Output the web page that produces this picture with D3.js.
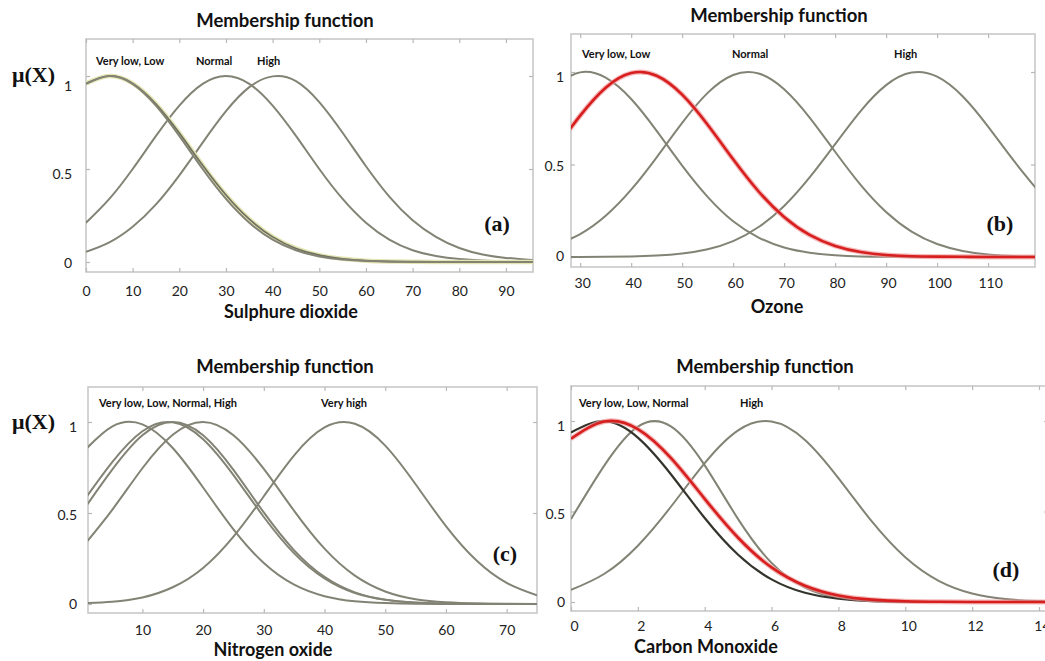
<!DOCTYPE html>
<html>
<head>
<meta charset="utf-8">
<script src="https://cdn.jsdelivr.net/npm/d3@7"></script>
<style>
  html, body { margin: 0; padding: 0; background: #fff; }
  svg { display: block; }
  .tick text { font-family: Lato, sans-serif; font-size: 14px; fill: #222; }
</style>
</head>
<body>
<svg id="chart" width="1045" height="661"></svg>
<script>
// ---- data ----
const panelTitle = "Membership function";
const axisNames = ["Sulphure dioxide", "Ozone", "Nitrogen oxide", "Carbon Monoxide"];
const panelTags = ["(a)", "(b)", "(c)", "(d)"];
const yTicks = [0, 0.5, 1];

// (a) sulphure dioxide
const so2X = [0, 5, 10, 15, 20, 25, 30, 35, 40, 45, 50, 55, 60, 65, 70, 75, 80, 85, 90, 95, 96];
const so2VeryLow = [0.960, 1.000, 0.960, 0.849, 0.693, 0.520, 0.360, 0.230, 0.135, 0.073, 0.037, 0.017, 0.007, 0.003, 0.001, 0, 0, 0, 0, 0, 0];
const so2Low = [0.958, 1.000, 0.958, 0.841, 0.678, 0.500, 0.339, 0.211, 0.120, 0.063, 0.030, 0.013, 0.005, 0.002, 0.001, 0, 0, 0, 0, 0, 0];
const so2Normal = [0.211, 0.339, 0.500, 0.678, 0.841, 0.958, 1.000, 0.958, 0.841, 0.678, 0.500, 0.339, 0.211, 0.120, 0.063, 0.032, 0.016, 0.008, 0.004, 0.002, 0.002];
const so2High = [0.055, 0.106, 0.190, 0.310, 0.466, 0.642, 0.811, 0.940, 0.998, 0.973, 0.860, 0.695, 0.515, 0.352, 0.225, 0.135, 0.075, 0.040, 0.022, 0.012, 0.010];
const so2Ticks = [0, 10, 20, 30, 40, 50, 60, 70, 80, 90];
const so2Names = ["Very low, Low", "Normal", "High"];

// (b) ozone
const o3X = [25, 30, 35, 40, 45, 50, 55, 60, 65, 70, 75, 80, 85, 90, 95, 100, 105, 110, 115, 120];
const o3VeryLow = [0.932, 0.998, 0.969, 0.854, 0.682, 0.494, 0.325, 0.193, 0.105, 0.051, 0.023, 0.009, 0.003, 0.001, 0, 0, 0, 0, 0, 0];
const o3Low = [0.580, 0.764, 0.915, 0.994, 0.980, 0.878, 0.715, 0.528, 0.354, 0.216, 0.119, 0.060, 0.027, 0.011, 0.004, 0.002, 0.001, 0, 0, 0];
const o3Normal = [0.063, 0.124, 0.223, 0.364, 0.539, 0.725, 0.887, 0.984, 0.992, 0.907, 0.754, 0.569, 0.390, 0.243, 0.137, 0.070, 0.033, 0.014, 0.005, 0.002];
const o3High = [0, 0, 0.001, 0.003, 0.008, 0.019, 0.042, 0.086, 0.162, 0.276, 0.430, 0.610, 0.789, 0.929, 0.997, 0.975, 0.869, 0.705, 0.522, 0.352];
const o3Ticks = [30, 40, 50, 60, 70, 80, 90, 100, 110];
const o3Names = ["Very low, Low", "Normal", "High"];

// (c) nitrogen oxide
const no2X = [0, 5, 10, 15, 20, 25, 30, 35, 40, 45, 50, 55, 60, 65, 70, 75];
const no2VeryLow = [0.827, 0.975, 0.987, 0.857, 0.640, 0.410, 0.225, 0.106, 0.043, 0.015, 0.005, 0.001, 0, 0, 0, 0];
const no2Low = [0.551, 0.778, 0.949, 0.998, 0.905, 0.708, 0.478, 0.278, 0.140, 0.060, 0.023, 0.007, 0.002, 0.001, 0, 0];
const no2Normal = [0.503, 0.737, 0.927, 1.000, 0.927, 0.737, 0.503, 0.295, 0.149, 0.064, 0.024, 0.008, 0.002, 0.001, 0, 0];
const no2High = [0.308, 0.516, 0.746, 0.930, 1.000, 0.927, 0.742, 0.512, 0.304, 0.156, 0.069, 0.026, 0.009, 0.003, 0.001, 0];
const no2VeryHigh = [0.004, 0.013, 0.036, 0.092, 0.198, 0.370, 0.592, 0.817, 0.970, 0.990, 0.870, 0.658, 0.428, 0.240, 0.116, 0.048];
const no2Ticks = [10, 20, 30, 40, 50, 60, 70];
const no2Names = ["Very low, Low, Normal, High", "Very high"];

// (d) carbon monoxide
const coX = [0, 1, 2, 3, 4, 5, 6, 7, 8, 9, 10, 11, 12, 13, 14, 15];
const coVeryLow = [0.937, 0.999, 0.908, 0.703, 0.464, 0.261, 0.125, 0.051, 0.018, 0.005, 0.001, 0, 0, 0, 0, 0];
const coLow = [0.902, 0.997, 0.955, 0.793, 0.570, 0.355, 0.191, 0.090, 0.036, 0.013, 0.004, 0.001, 0, 0, 0, 0];
const coNormal = [0.458, 0.755, 0.969, 0.969, 0.755, 0.458, 0.216, 0.080, 0.023, 0.005, 0.001, 0, 0, 0, 0, 0];
const coHigh = [0.067, 0.156, 0.311, 0.529, 0.767, 0.948, 0.997, 0.895, 0.684, 0.445, 0.247, 0.117, 0.047, 0.016, 0.005, 0.001];
const coTicks = [0, 2, 4, 6, 8, 10, 12, 14];
const coNames = ["Very low, Low, Normal", "High"];

// ---- layout (pixels) ----
const panels = [
  { xs: so2X, series: [[so2Normal, 'gray'], [so2High, 'gray'], [so2VeryLow, 'pair'], [so2Low, 'gray']],
    ticks: so2Ticks, names: so2Names, axisName: axisNames[0], tag: panelTags[0],
    box: [86, 39, 533, 272], y1: 76, y0: 262, domain: [0, 95.8],
    title: [285, 21], axisTitle: [291, 312], tickY: 291, tickShift: 0,
    yLabelRight: 72, ySkew: [1, 9], tagPos: [497, 223], namePos: [[96, 61], [196, 61], [257, 61]], mu: [12, 74] },
  { xs: o3X, series: [[o3VeryLow, 'gray'], [o3Normal, 'gray'], [o3High, 'gray'], [o3Low, 'red']],
    ticks: o3Ticks, names: o3Names, axisName: axisNames[1], tag: panelTags[1],
    box: [571, 34, 1035, 267], y1: 72, y0: 257, domain: [28.2, 119.2],
    title: [779, 16], axisTitle: [777, 307], tickY: 283, tickShift: 2,
    yLabelRight: 564, ySkew: [-1, 6], tagPos: [1000, 223], namePos: [[582, 54], [732, 54], [894, 54]], mu: null },
  { xs: no2X, series: [[no2VeryLow, 'gray'], [no2Low, 'gray'], [no2Normal, 'gray'], [no2High, 'gray'], [no2VeryHigh, 'gray']],
    ticks: no2Ticks, names: no2Names, axisName: axisNames[2], tag: panelTags[2],
    box: [88, 387, 537, 613], y1: 422, y0: 604, domain: [1.04, 75],
    title: [285, 367], axisTitle: [273, 650], tickY: 630, tickShift: 0,
    yLabelRight: 77, ySkew: [0, 5], tagPos: [505, 553], namePos: [[99, 403], [321, 403]], mu: [12, 421] },
  { xs: coX, series: [[coNormal, 'gray'], [coHigh, 'gray'], [coVeryLow, 'dark'], [coLow, 'red']],
    ticks: coTicks, names: coNames, axisName: axisNames[3], tag: panelTags[3],
    box: [571, 386, 1048, 611], y1: 421, y0: 602, domain: [0, 14.27],
    title: [765, 367], axisTitle: [706, 647], tickY: 626, tickShift: 3,
    yLabelRight: 565, ySkew: [0, 5], tagPos: [1006, 569], namePos: [[579, 403], [740, 403]], mu: null }
];

const svg = d3.select('#chart');

panels.forEach((p, i) => drawPanel(p, i));

function drawPanel(p, i) {
  const [L, T, R, B] = p.box;
  const x = d3.scaleLinear().domain(p.domain).range([L, R]);
  const y = d3.scaleLinear().domain([0, 1]).range([p.y0, p.y1]);
  const g = svg.append('g');

  g.append('clipPath').attr('id', 'clip' + i)
    .append('rect').attr('x', L).attr('y', T).attr('width', R - L).attr('height', B - T);

  // frame
  g.append('rect')
    .attr('x', L).attr('y', T).attr('width', R - L).attr('height', B - T)
    .style('fill', 'none').style('stroke', '#c9c9c9').style('stroke-width', 1.6);

  // inward tick marks on all four sides
  const marks = [
    [d3.axisTop(x).tickValues(p.ticks), `translate(0,${B})`],
    [d3.axisBottom(x).tickValues(p.ticks), `translate(0,${T})`],
    [d3.axisRight(y).tickValues(yTicks), `translate(${L},0)`],
    [d3.axisLeft(y).tickValues(yTicks), `translate(${R},0)`]
  ];
  marks.forEach(([ax, tr]) => {
    const m = g.append('g').attr('transform', tr).call(ax.tickSize(4).tickFormat(''));
    m.select('.domain').remove();
    m.selectAll('line').style('stroke', '#b8b8b8').style('stroke-width', 1.2);
  });

  // tick labels
  const xl = g.append('g')
    .attr('transform', `translate(${p.tickShift},${p.tickY})`)
    .call(d3.axisBottom(x).tickValues(p.ticks).tickSize(0).tickPadding(0));
  xl.select('.domain').remove();
  xl.selectAll('text').attr('y', 0).attr('dy', '0.36em');

  const yl = g.append('g')
    .attr('transform', `translate(${p.yLabelRight},0)`)
    .call(d3.axisLeft(y).tickValues(yTicks).tickSize(0).tickPadding(0).tickFormat(d3.format('')));
  yl.select('.domain').remove();
  yl.selectAll('.tick text')
    .attr('transform', d => `translate(0,${p.ySkew[0] + p.ySkew[1] * d})`);

  // curves
  const line = d3.line()
    .x((d, k) => x(p.xs[k]))
    .y(d => y(d))
    .curve(d3.curveNatural);

  const curves = g.append('g').attr('clip-path', `url(#clip${i})`);
  p.series.forEach(([vals, kind]) => {
    if (kind === 'red') {
      curves.append('path').attr('d', line(vals))
        .style('fill', 'none').style('stroke', '#f09a9a').style('stroke-width', 5).style('opacity', 0.7);
      curves.append('path').attr('d', line(vals))
        .style('fill', 'none').style('stroke', '#d81f1f').style('stroke-width', 2.6);
    } else if (kind === 'pair') {
      curves.append('path').attr('d', line(vals))
        .style('fill', 'none').style('stroke', '#e4e6b2').style('stroke-width', 4.5);
      curves.append('path').attr('d', line(vals))
        .style('fill', 'none').style('stroke', '#6f6f60').style('stroke-width', 1.7);
    } else {
      curves.append('path').attr('d', line(vals))
        .style('fill', 'none')
        .style('stroke', kind === 'dark' ? '#34342c' : '#838375')
        .style('stroke-width', kind === 'dark' ? 2.2 : 2);
    }
  });

  // set names above the curves
  p.names.forEach((n, k) => {
    g.append('text')
      .attr('x', p.namePos[k][0]).attr('y', p.namePos[k][1]).attr('dy', '0.35em')
      .style('font-family', 'Lato, sans-serif').style('font-weight', 'bold').style('font-size', '11px')
      .style('fill', '#111')
      .text(n);
  });

  g.append('text')
    .attr('x', p.title[0]).attr('y', p.title[1]).attr('dy', '0.35em')
    .style('text-anchor', 'middle')
    .style('font-family', 'Lato, sans-serif').style('font-weight', 'bold').style('font-size', '18.5px')
    .style('fill', '#111')
    .text(panelTitle);

  g.append('text')
    .attr('x', p.axisTitle[0]).attr('y', p.axisTitle[1]).attr('dy', '0.35em')
    .style('text-anchor', 'middle')
    .style('font-family', 'Lato, sans-serif').style('font-weight', 'bold').style('font-size', '18px')
    .style('fill', '#111')
    .text(p.axisName);

  g.append('text')
    .attr('x', p.tagPos[0]).attr('y', p.tagPos[1]).attr('dy', '0.35em')
    .style('text-anchor', 'middle')
    .style('font-family', '"Liberation Serif", serif').style('font-weight', 'bold').style('font-size', '22px')
    .style('fill', '#111')
    .text(p.tag);

  if (p.mu) {
    g.append('text')
      .attr('x', p.mu[0]).attr('y', p.mu[1]).attr('dy', '0.35em')
      .style('font-family', '"Liberation Serif", serif').style('font-weight', 'bold').style('font-size', '22px')
      .style('fill', '#111')
      .text('μ(X)');
  }
}
</script>
</body>
</html>
